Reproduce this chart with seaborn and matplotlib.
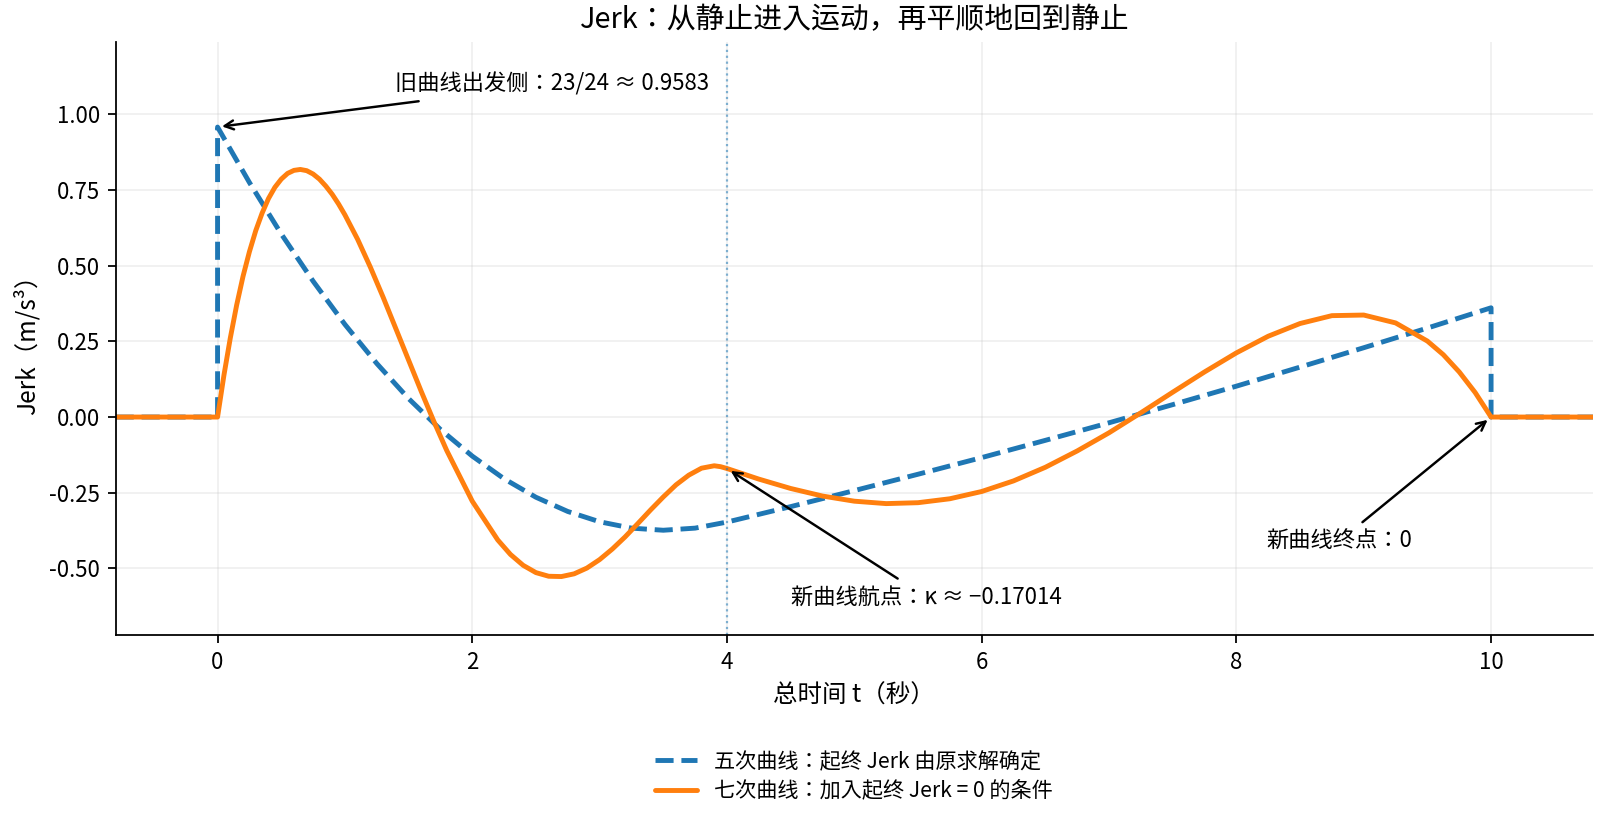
import matplotlib
matplotlib.use("Agg")
import matplotlib.pyplot as plt
import seaborn as sns

# Quintic curve jerk
quintic_t = [-0.8, 0.0, 0.0, 0.25, 0.5, 0.75, 1.0, 1.25, 1.5, 1.75, 2.0, 2.25, 2.5,
             2.75, 3.0, 3.25, 3.5, 3.75, 4.0, 4.5, 5.0, 5.5, 6.0, 6.5, 7.0, 7.5,
             8.0, 8.5, 9.0, 9.5, 10.0, 10.0, 10.8]
quintic_jerk = [0.0, 0.0, 0.958, 0.775, 0.605, 0.449, 0.306, 0.177, 0.061, -0.041,
                -0.129, -0.204, -0.265, -0.312, -0.346, -0.367, -0.374, -0.367, -0.347,
                -0.296, -0.243, -0.189, -0.134, -0.077, -0.019, 0.041, 0.102, 0.165,
                0.229, 0.294, 0.361, 0.0, 0.0]

# Septic curve jerk
septic_t = [-0.8, 0.0, 0.05, 0.1, 0.15, 0.2, 0.25, 0.3, 0.35, 0.4, 0.45, 0.5, 0.55,
            0.6, 0.65, 0.7, 0.75, 0.8, 0.85, 0.9, 0.95, 1.0, 1.1, 1.2, 1.3, 1.4, 1.5,
            1.6, 1.7, 1.8, 2.0, 2.2, 2.3, 2.4, 2.5, 2.6, 2.7, 2.8, 2.9, 3.0, 3.1, 3.2,
            3.3, 3.4, 3.5, 3.6, 3.7, 3.8, 3.9, 3.95, 4.0,
            4.25, 4.5, 4.75, 5.0, 5.25, 5.5, 5.75, 6.0, 6.25, 6.5, 6.75, 7.0, 7.25,
            7.5, 7.75, 8.0, 8.25, 8.5, 8.75, 9.0, 9.25, 9.5, 9.625, 9.75, 9.875,
            10.0, 10.8]
septic_jerk = [0.0, 0.0, 0.138, 0.261, 0.370, 0.465, 0.546, 0.616, 0.674, 0.722, 0.759,
               0.786, 0.805, 0.815, 0.818, 0.814, 0.803, 0.786, 0.763, 0.736, 0.704,
               0.668, 0.587, 0.495, 0.396, 0.292, 0.188, 0.084, -0.016, -0.111, -0.278,
               -0.406, -0.454, -0.490, -0.514, -0.526, -0.527, -0.518, -0.499, -0.471,
               -0.436, -0.396, -0.352, -0.307, -0.264, -0.224, -0.192, -0.169, -0.161,
               -0.164, -0.170,
               -0.205, -0.236, -0.261, -0.278, -0.286, -0.283, -0.270, -0.246, -0.211,
               -0.166, -0.112, -0.052, 0.014, 0.082, 0.149, 0.212, 0.267, 0.309, 0.335,
               0.337, 0.311, 0.251, 0.206, 0.149, 0.081, 0.0, 0.0]

waypoint_t = 4.0
kappa = -0.17014
start_jerk = 23 / 24

label_quintic = "五次曲线：起终 Jerk 由原求解确定"
label_septic = "七次曲线：加入起终 Jerk = 0 的条件"

sns.set_style("ticks")
plt.rcParams['font.family'] = ['Noto Sans CJK JP', 'DejaVu Sans']
plt.rcParams['axes.unicode_minus'] = False
plt.rcParams['axes.edgecolor'] = 'black'
plt.rcParams['xtick.color'] = 'black'
plt.rcParams['ytick.color'] = 'black'
plt.rcParams['text.color'] = 'black'
plt.rcParams['axes.labelcolor'] = 'black'

fig = plt.figure(figsize=(10, 5.09375), dpi=160)
ax = fig.add_subplot(111)
fig.subplots_adjust(left=0.0723, right=0.9956, top=0.9488, bottom=0.2209)

sns.lineplot(x=quintic_t, y=quintic_jerk, estimator=None, sort=False, ax=ax,
             color='#1f77b4', linestyle='--', linewidth=2.2, label=label_quintic)
sns.lineplot(x=septic_t, y=septic_jerk, estimator=None, sort=False, ax=ax,
             color='#ff7f0e', linewidth=2.2, label=label_septic)

ax.axvline(waypoint_t, color='#1f77b4', linestyle=':', linewidth=1.0, alpha=0.55)

ax.set_xlim(-0.8, 10.8)
ax.set_ylim(-0.72, 1.24)
ax.set_xticks([0, 2, 4, 6, 8, 10])
ax.set_yticks([-0.5, -0.25, 0.0, 0.25, 0.5, 0.75, 1.0])
ax.set_yticklabels(['-0.50', '-0.25', '0.00', '0.25', '0.50', '0.75', '1.00'])
ax.tick_params(labelsize=10)
ax.grid(True, alpha=0.3)
sns.despine(ax=ax)

ax.set_title("Jerk：从静止进入运动，再平顺地回到静止", fontsize=13)
ax.set_xlabel("总时间 t（秒）", fontsize=11)
ax.set_ylabel("Jerk（m/s³）", fontsize=11)

arrow = dict(arrowstyle='->', color='black', lw=1.1)
ax.annotate("旧曲线出发侧：23/24 ≈ 0.9583", xy=(0, start_jerk), xytext=(2.63, 1.10),
            ha='center', va='center', fontsize=10, arrowprops=arrow)
ax.annotate("新曲线航点：κ ≈ −0.17014", xy=(waypoint_t, kappa), xytext=(5.57, -0.596),
            ha='center', va='center', fontsize=10, arrowprops=arrow)
ax.annotate("新曲线终点：0", xy=(10, 0), xytext=(8.805, -0.411),
            ha='center', va='center', fontsize=10, arrowprops=arrow)

ax.legend(loc='upper center', bbox_to_anchor=(0.5338, 0.102), bbox_transform=fig.transFigure,
          frameon=False, fontsize=9.5, ncol=1, labelspacing=0.35)

fig.savefig("out.png", dpi=160)
